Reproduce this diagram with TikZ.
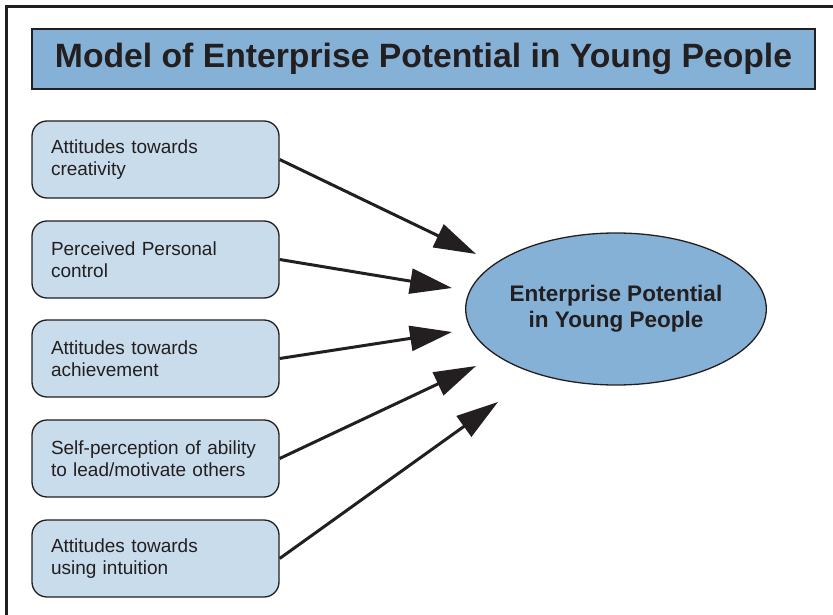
\documentclass[tikz,border=0pt]{standalone}
\usepackage{fontspec}
\setmainfont{Liberation Sans}
\usetikzlibrary{arrows.meta,shapes.geometric}
\definecolor{ink}{HTML}{231F20}
\definecolor{headblue}{HTML}{86B1D6}
\definecolor{paleblue}{HTML}{C9DCEB}
\begin{document}
\begin{tikzpicture}[x=1pt,y=-1pt,
  frameline/.style={draw=ink, line width=3pt},
  titlebox/.style={draw=ink, line width=2.5pt, fill=headblue, minimum width=783pt,
    minimum height=60pt, inner sep=0pt, text=ink,
    font=\fontsize{33.7}{38}\selectfont\bfseries},
  factor/.style={draw=ink, line width=1.3pt, fill=paleblue, rounded corners=15pt,
    minimum width=247pt, minimum height=77pt, inner xsep=0pt, text width=209pt,
    align=left, text=ink, font=\fontsize{19}{22.5}\selectfont},
  outcome/.style={draw=ink, line width=1.3pt, fill=headblue, ellipse,
    minimum width=298pt, minimum height=152pt, inner sep=0pt, align=center,
    text=ink, font=\fontsize{22.5}{26}\selectfont\bfseries},
  influence/.style={draw=ink, line width=3pt, -{Triangle[length=42pt,width=25pt]}}
]
\useasboundingbox (0,0) rectangle (833,615);

% outer frame (top and left edges)
\coordinate (fbl) at (6.5,615);
\coordinate (ftl) at (6.5,6.5);
\coordinate (ftr) at (833,6.5);
\draw[frameline] (fbl) -- (ftl) -- (ftr);

% heading
\node[titlebox] (title) at (423.5,59) {Model of Enterprise Potential in Young People};

% factors
\node[factor] (b1) at (155.5,159.5) {Attitudes towards\\creativity};
\node[factor] (b2) at (155.5,259.5) {Perceived Personal\\control};
\node[factor] (b3) at (155.5,358.5) {Attitudes towards\\achievement};
\node[factor] (b4) at (155.5,458.5) {Self-perception of ability\\to lead/motivate others};
\node[factor] (b5) at (155.5,558.5) {Attitudes towards\\using intuition};

% outcome
\node[outcome] (ep) at (616,309) {Enterprise Potential\\in Young People};

% arrow tips
\coordinate (t1) at (476,254);
\coordinate (t2) at (452,288);
\coordinate (t3) at (452,332);
\coordinate (t4) at (476,366);
\coordinate (t5) at (498,402);

\draw[influence] (b1.east) -- (t1);
\draw[influence] (b2.east) -- (t2);
\draw[influence] (b3.east) -- (t3);
\draw[influence] (b4.east) -- (t4);
\draw[influence] (b5.east) -- (t5);
\end{tikzpicture}
\end{document}
